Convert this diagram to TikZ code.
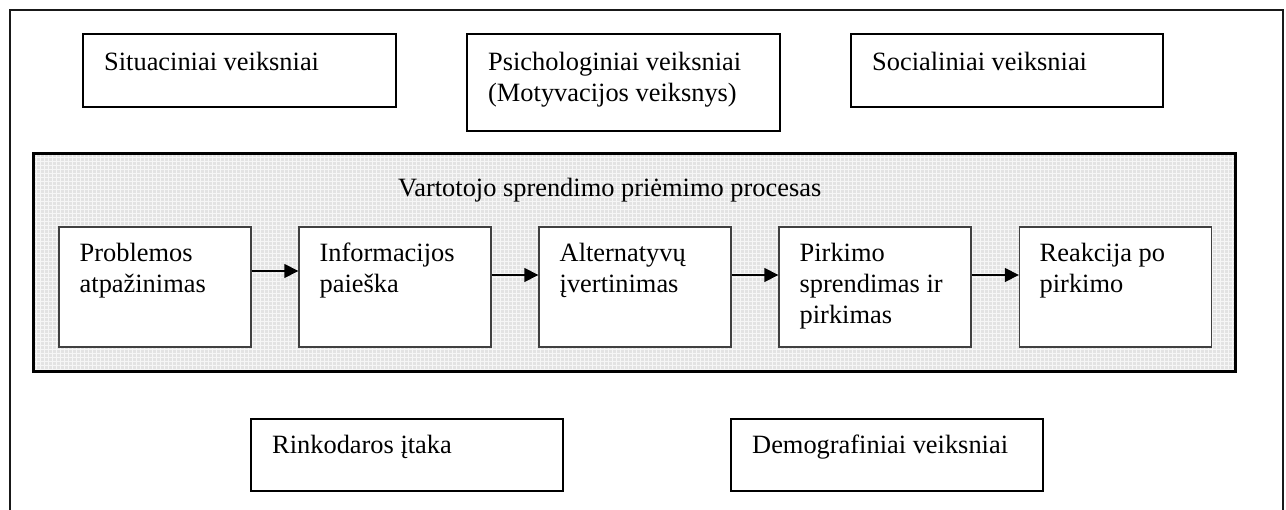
\documentclass[tikz,border=0pt]{standalone}
\usepackage{fontspec}
\setmainfont{Liberation Serif}
\usetikzlibrary{arrows.meta}
\begin{document}
\begin{tikzpicture}[x=1pt,y=-1pt,
  every node/.style={font=\fontsize{26.4pt}{31pt}\selectfont},
  factor/.style={draw=black,line width=2pt,fill=white,minimum width=#1,minimum height=73pt,inner sep=0pt},
  stage/.style={draw=black!75,line width=1.4pt,fill=white,minimum width=192pt,minimum height=120pt,inner sep=0pt},
  label/.style={anchor=base west,inner sep=0pt,align=left},
  flow/.style={line width=1.6pt,-{Triangle[length=14pt,width=14pt]}}]
\useasboundingbox (0,0) rectangle (1286,510);
\fill[white] (0,0) rectangle (1286,510);

% outer frame, open at the bottom
\draw[line width=2.2pt,black!90] (10,512) -- (10,10) -- (1283,10) -- (1283,512);

% factors above the process
\node[factor=313pt] (sit) at (239.5,70.5) {};
\node[factor=313pt,minimum height=97pt] (psy) at (623.5,82.5) {};
\node[factor=312pt] (soc) at (1007,70.5) {};
\node[label] (sitT) at (104,71) {Situaciniai veiksniai};
% multi-line labels sit on the baseline of their last line
\node[label] (psyT) at (488,102) {Psichologiniai veiksniai\\(Motyvacijos veiksnys)};
\node[label] (socT) at (872,71) {Socialiniai veiksniai};

% shaded band holding the decision process
\node[draw=black,line width=2pt,fill=black!11,minimum width=1201pt,minimum height=217pt,inner sep=0pt] (band) at (634.5,262.5) {};
\begin{scope}
  \clip (35,155) rectangle (1234,370);
  \foreach \gx in {36,40,...,1234} \draw[white!70!black!12,line width=0.9pt] (\gx,155) -- (\gx,370);
  \foreach \gy in {157,161,...,370} \draw[white!70!black!12,line width=0.9pt] (35,\gy) -- (1234,\gy);
\end{scope}
\draw[line width=2pt] (band.north west) rectangle (band.south east);
\node[label] (title) at (398,197) {Vartotojo sprendimo priėmimo procesas};

% process stages
\node[stage] (s1) at (155,287) {};
\node[stage] (s2) at (395,287) {};
\node[stage] (s3) at (635,287) {};
\node[stage] (s4) at (875,287) {};
\node[stage] (s5) at (1115.5,287) {};
\node[label] (s1T) at (79.5,293) {Problemos\\atpažinimas};
\node[label] (s2T) at (319.5,293) {Informacijos\\paieška};
\node[label] (s3T) at (559.5,293) {Alternatyvų\\įvertinimas};
\node[label] (s4T) at (799.5,324) {Pirkimo\\sprendimas ir\\pirkimas};
\node[label] (s5T) at (1039.5,293) {Reakcija po\\pirkimo};

\draw[flow] ([yshift=16pt]s1.east) -- ([yshift=16pt]s2.west);
\draw[flow] ([yshift=12pt]s2.east) -- ([yshift=12pt]s3.west);
\draw[flow] ([yshift=12pt]s3.east) -- ([yshift=12pt]s4.west);
\draw[flow] ([yshift=12pt]s4.east) -- ([yshift=12pt]s5.west);

% factors below the process
\node[factor=312pt,minimum height=72pt] (mkt) at (407,455) {};
\node[factor=312pt,minimum height=72pt] (dem) at (887,455) {};
\node[label] (mktT) at (272,454) {Rinkodaros įtaka};
\node[label] (demT) at (752,454) {Demografiniai veiksniai};
\end{tikzpicture}
\end{document}
